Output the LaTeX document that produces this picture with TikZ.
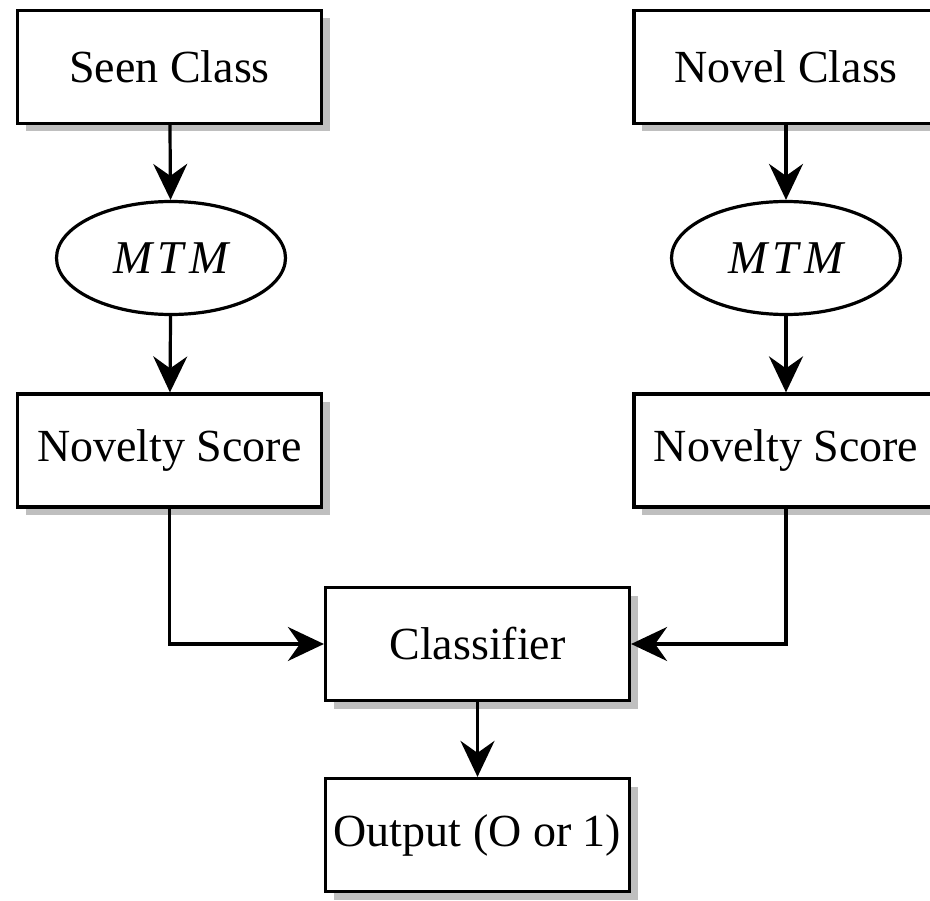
\documentclass[tikz,border=0pt]{standalone}
\usepackage{fontspec}
\setmainfont{Liberation Serif}
\usetikzlibrary{arrows.meta,shapes.geometric,shadows}

\tikzset{
  box/.style={draw=black, line width=3.2pt, fill=white, rectangle,
    minimum width=304pt, minimum height=113pt, inner sep=0pt,
    font=\fontsize{46}{52}\selectfont,
    drop shadow={shadow xshift=8pt, shadow yshift=-8pt, fill=black!25, opacity=1}},
  model/.style={draw=black, line width=3.2pt, fill=white, ellipse,
    minimum width=229pt, minimum height=113pt, inner sep=0pt,
    font=\fontsize{47}{52}\selectfont\itshape},
  arr/.style={draw=black, line width=3.2pt,
    -{Stealth[length=36pt, width=34pt, inset=12pt]}}
}

\begin{document}
\begin{tikzpicture}[x=1pt, y=-1pt]
  \useasboundingbox (0,0) rectangle (930,901);
  \clip (0,0) rectangle (930,901);

  % left branch
  \node[box]   (seen) at (169.5, 67)  {Seen Class};
  \node[model] (mtmA) at (171, 258)   {M\kern5pt T\kern5pt M};
  \node[box]   (nsA)  at (169.5, 450.5) {Novelty Score};

  % right branch
  \node[box]   (novel) at (786, 67)   {Novel Class};
  \node[model] (mtmB)  at (786, 258)  {M\kern5pt T\kern5pt M};
  \node[box]   (nsB)   at (786, 450.5) {Novelty Score};

  % classifier and result
  \node[box]   (cls) at (477.5, 644) {Classifier};
  \node[box]   (out) at (477.5, 835) {Output (O or 1)};

  % connectors
  \draw[arr] (seen) -- (mtmA);
  \draw[arr] (mtmA) -- (nsA);
  \draw[arr] (novel) -- (mtmB);
  \draw[arr] (mtmB) -- (nsB);
  \draw[arr] (nsA.south) |- (cls.west);
  \draw[arr] (nsB.south) |- (cls.east);
  \draw[arr] (cls) -- (out);
\end{tikzpicture}
\end{document}
